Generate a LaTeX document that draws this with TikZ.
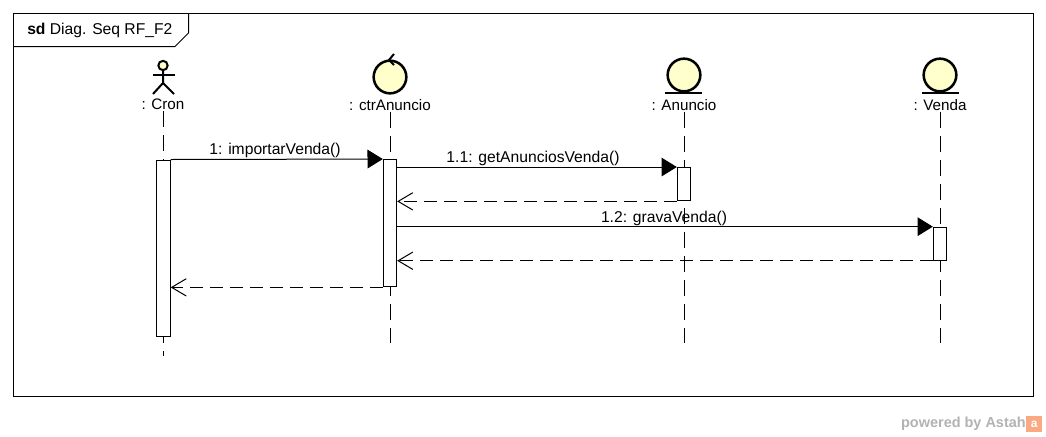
\documentclass[tikz,border=0pt]{standalone}
\usepackage{fontspec}
\setmainfont{Liberation Sans}
\usetikzlibrary{arrows.meta}
\definecolor{lifefill}{RGB}{255,255,204}
\definecolor{logoorange}{RGB}{250,170,130}
\tikzset{
  frameline/.style={line width=0.75pt, black},
  entity/.style={draw, circle, fill=lifefill, line width=1.9pt, minimum size=24.5pt, inner sep=0pt},
  lifeline/.style={line width=0.75pt, dash pattern=on 12pt off 6pt},
  bar/.style={draw, fill=white, line width=0.75pt, minimum width=10pt, inner sep=0pt},
  call/.style={line width=0.75pt, -{Triangle[length=11.5pt,width=14pt]}},
  reply/.style={line width=0.75pt, dash pattern=on 10pt off 5pt, -{Straight Barb[length=11pt,width=13pt,line width=0.75pt]}},
  lifename/.style={font=\fontsize{11.4pt}{13pt}\selectfont, inner sep=0pt},
  msg/.style={font=\fontsize{11.75pt}{13pt}\selectfont, inner sep=0pt}
}
\begin{document}
\begin{tikzpicture}[x=0.75pt, y=-0.75pt]
\useasboundingbox (0, 0) rectangle (1046, 436);
\draw [frameline] (13.5, 13.5) rectangle (1033.5, 396.5);
\draw [frameline] (13.5, 46.5) -- (175, 46.5) -- (188.5, 33) -- (188.5, 13.5);
\node [msg, anchor=west] (framename) at (27, 30.5) {\textbf{sd} Diag. Seq RF\_F2};

% lifelines
\node [lifename] (cronname) at (163, 104.5) {: Cron};
\node [lifename] (ctrname) at (390, 105) {: ctrAnuncio};
\node [lifename] (anuncioname) at (684, 105) {: Anuncio};
\node [lifename] (vendaname) at (940, 105) {: Venda};
\coordinate (cronend) at (163.5, 356);
\coordinate (ctrend) at (390, 343);
\coordinate (anuncioend) at (684, 343);
\coordinate (vendaend) at (940.5, 343);
\draw [lifeline] (cronname.south) ++(0.5, 1) -- (cronend);
\draw [lifeline] (ctrname.south) ++(0, 1) -- (ctrend);
\draw [lifeline] (anuncioname.south) ++(0, 1) -- (anuncioend);
\draw [lifeline] (vendaname.south) ++(0.5, 1) -- (vendaend);

% actor
\node [draw, circle, fill=lifefill, line width=1.5pt, minimum size=7pt, inner sep=0pt] (cronhead) at (163, 65.5) {};
\draw [line width=1.5pt] (cronhead.south) -- (163, 83) -- (153, 94);
\draw [line width=1.5pt] (163, 83) -- (174, 94);
\draw [line width=1.5pt] (153, 75) -- (175, 75);

% control and entities
\node [entity] (ctrbody) at (390, 77) {};
\draw [line width=1.5pt] (394, 54) -- (389, 60) -- (394, 65);
\node [entity] (anunciobody) at (684, 75) {};
\draw [line width=1.5pt] (665, 93) -- (702, 93);
\node [entity] (vendabody) at (940, 75) {};
\draw [line width=1.5pt] (922, 93) -- (959, 93);

% activation bars
\node [bar, minimum height=132pt] (cronbar) at (163.5, 248) {};
\node [bar, minimum height=95.5pt] (ctrbar) at (390, 223.2) {};
\node [bar, minimum height=25pt] (anunciobar) at (684, 184.2) {};
\node [bar, minimum height=24.8pt] (vendabar) at (940, 243.7) {};

% messages
\draw [call] (cronbar.north east) -- (ctrbar.north west);
\draw [call] (ctrbar.east |- anunciobar.north) -- (anunciobar.north west);
\draw [reply] (anunciobar.south west) -- (ctrbar.east |- anunciobar.south);
\draw [call] (ctrbar.east |- vendabar.north) -- (vendabar.north west);
\draw [reply] (vendabar.south west) -- (ctrbar.east |- vendabar.south);
\draw [reply] (ctrbar.south west) -- (cronbar.east |- ctrbar.south);
\node [msg] (importar) at (275, 150) {1: importarVenda()};
\node [msg] (getanuncios) at (533, 158) {1.1: getAnunciosVenda()};
\node [msg] (grava) at (664, 218) {1.2: gravaVenda()};

% footer
\node [anchor=east, inner sep=0pt, text=black!30, font=\fontsize{10.85pt}{12pt}\selectfont\bfseries] (powered) at (1026, 424) {powered by Astah};
\node [fill=logoorange, minimum size=12pt, inner sep=0pt, anchor=west, text=white, font=\fontsize{9pt}{9pt}\selectfont\bfseries] (logo) at (1026, 424) {a};
\end{tikzpicture}
\end{document}
